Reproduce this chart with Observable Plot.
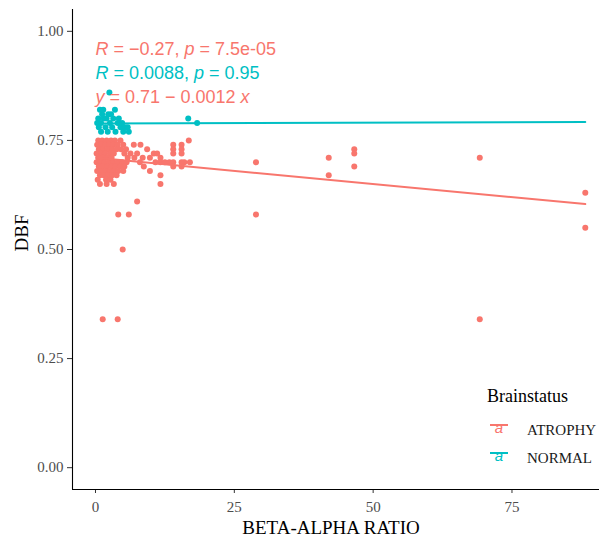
<!DOCTYPE html>
<html><head><meta charset="utf-8">
<script src="https://cdn.jsdelivr.net/npm/d3@7"></script>
<script src="https://cdn.jsdelivr.net/npm/@observablehq/plot@0.6"></script>
<style>html,body{margin:0;padding:0;background:#fff;overflow:hidden;} #chart svg{display:block;}</style>
</head><body><div id="chart"></div>
<script>
// ---- data (BETA-ALPHA RATIO, DBF) ----
const groups = ["ATROPHY", "NORMAL"];
const groupColors = ["#F8766D", "#00BFC4"];

const atrophy = [
  [0.5,0.75],[1.2,0.75],[2.0,0.75],[2.8,0.75],[3.5,0.75],[4.5,0.75],
  [0.3,0.74],[1.0,0.74],[1.8,0.74],[2.5,0.74],[3.2,0.74],[4.0,0.74],[5.0,0.74],[6.9,0.74],[8.1,0.74],
  [0.6,0.73],[1.4,0.73],[2.2,0.73],[3.0,0.73],[3.8,0.73],[4.6,0.73],[5.5,0.73],[9.3,0.73],
  [0.2,0.72],[1.0,0.72],[1.7,0.72],[2.6,0.72],[3.3,0.72],[5.2,0.72],[6.3,0.72],[7.5,0.72],[10.5,0.72],[11.1,0.72],
  [0.5,0.71],[1.3,0.71],[2.0,0.71],[2.9,0.71],[5.8,0.71],[7.0,0.71],[8.5,0.71],[9.8,0.71],[11.7,0.71],
  [0.2,0.70],[0.9,0.70],[1.6,0.70],[2.4,0.70],[3.2,0.70],[4.0,0.70],[4.8,0.70],[5.6,0.70],[8.0,0.70],[10.8,0.70],[11.7,0.70],[12.5,0.70],[13.3,0.70],[16.0,0.70],[17.0,0.70],
  [0.6,0.69],[1.3,0.69],[2.1,0.69],[2.9,0.69],[3.6,0.69],[4.4,0.69],[5.2,0.69],[8.7,0.69],
  [0.3,0.68],[1.0,0.68],[1.8,0.68],[2.6,0.68],[3.3,0.68],[4.1,0.68],[5.0,0.68],[9.8,0.68],
  [0.8,0.67],[1.5,0.67],[2.3,0.67],[3.0,0.67],[3.8,0.67],[11.7,0.67],
  [0.4,0.66],[1.9,0.66],[2.7,0.66],
  [0.8,0.65],[2.0,0.65],[3.3,0.65],[11.7,0.65],
  [14.0,0.74],[14.0,0.73],[14.0,0.72],[14.0,0.70],[14.0,0.69],
  [15.5,0.74],[15.5,0.73],[15.5,0.72],[15.5,0.70],[15.5,0.69],
  [16.8,0.75],
  [7.5,0.61],[4.1,0.58],[6.0,0.58],[4.9,0.50],[1.3,0.34],[4.0,0.34],
  [28.9,0.70],[28.9,0.58],[42.0,0.71],[42.0,0.67],
  [46.6,0.73],[46.6,0.72],[46.6,0.69],
  [69.2,0.71],[69.2,0.34],[88.2,0.63],[88.2,0.55]
];

const normal = [
  [0.3,0.79],[0.5,0.80],[0.6,0.78],[0.8,0.82],[1.0,0.79],[1.0,0.77],[1.2,0.81],[1.4,0.82],
  [1.5,0.80],[1.8,0.78],[2.0,0.80],[2.2,0.77],[2.3,0.81],[2.5,0.86],[2.6,0.79],[2.8,0.81],
  [3.0,0.78],[3.2,0.80],[3.5,0.82],[3.6,0.77],[4.0,0.79],[4.2,0.80],[4.5,0.78],[4.8,0.79],
  [5.0,0.77],[5.3,0.78],[5.8,0.78],[6.0,0.77],[16.7,0.80],[18.3,0.79]
];

// fitted lines (endpoints)
const atrophyFitX = [0.2, 88.2];
const atrophyFitY = [0.710, 0.604];
const normalFitX = [0.2, 88.2];
const normalFitY = [0.789, 0.792];

// annotation labels
const annLabels = ["R = −0.27, p = 7.5e-05", "R = 0.0088, p = 0.95", "y = 0.71 − 0.0012 x"];
const annGroups = ["ATROPHY", "NORMAL", "ATROPHY"];
const annY = [0.959, 0.904, 0.849];

const xTicks = [0, 25, 50, 75];
const yTicks = [0, 0.25, 0.5, 0.75, 1.0];

// ---- build tables ----
const pts = [
  ...atrophy.map(([x, y]) => ({x, y, g: "ATROPHY"})),
  ...normal.map(([x, y]) => ({x, y, g: "NORMAL"}))
];
const fitA = atrophyFitX.map((x, i) => ({x, y: atrophyFitY[i]}));
const fitN = normalFitX.map((x, i) => ({x, y: normalFitY[i]}));
const ann = annLabels.map((label, i) => ({label, g: annGroups[i], y: annY[i], x: 0}));
const colorOf = g => groupColors[groups.indexOf(g)];

const serif = "'Liberation Serif', 'Times New Roman', serif";
const sans = "'Liberation Sans', Arial, sans-serif";

const xDom = [-4.14, 90.76];
const yDom = [-0.05, 1.05];

const chart = Plot.plot({
  width: 599, height: 538,
  marginLeft: 72, marginRight: 0, marginTop: 9, marginBottom: 49,
  x: {domain: xDom},
  y: {domain: yDom},
  style: {fontFamily: serif, fontSize: "15px", background: "#fff", color: "#4d4d4d"},
  marks: [
    Plot.axisX({ticks: xTicks, tickSize: 4, tickPadding: 8, label: null, fill: "#4d4d4d", stroke: "#333", fontSize: 15}),
    Plot.axisY({ticks: yTicks, tickSize: 5, tickPadding: 4, tickFormat: d3.format(".2f"), label: null, fill: "#4d4d4d", stroke: "#333", fontSize: 15}),
    Plot.ruleX([xDom[0]], {stroke: "#000", strokeWidth: 1.1}),
    Plot.ruleY([yDom[0]], {stroke: "#000", strokeWidth: 1.1}),
    Plot.dot(pts.filter(d => d.g === "ATROPHY"), {x: "x", y: "y", r: 3, fill: colorOf("ATROPHY"), stroke: "none"}),
    Plot.dot(pts.filter(d => d.g === "NORMAL"), {x: "x", y: "y", r: 3, fill: colorOf("NORMAL"), stroke: "none"}),
    Plot.line(fitA, {x: "x", y: "y", stroke: colorOf("ATROPHY"), strokeWidth: 2}),
    Plot.line(fitN, {x: "x", y: "y", stroke: colorOf("NORMAL"), strokeWidth: 2}),
    Plot.text(ann.filter(d => d.g === "ATROPHY"), {x: "x", y: "y", text: "label", textAnchor: "start", fill: colorOf("ATROPHY"), fontSize: 18, fontFamily: sans, className: "ann"}),
    Plot.text(ann.filter(d => d.g === "NORMAL"), {x: "x", y: "y", text: "label", textAnchor: "start", fill: colorOf("NORMAL"), fontSize: 18, fontFamily: sans, className: "ann"})
  ]
});
document.getElementById("chart").appendChild(chart);

const svg = d3.select(chart);

// italic math letters in annotations
svg.selectAll("g.ann text").each(function() {
  const t = d3.select(this);
  const s = this.textContent;
  t.text(null);
  s.split(/\b([Rpxy])\b/).forEach((part, i) => {
    if (!part) return;
    const ts = t.append("tspan").text(part);
    if (i % 2 === 1) ts.attr("font-style", "italic");
  });
});

// axis titles
svg.append("text").attr("x", 331).attr("y", 534).attr("text-anchor", "middle")
  .attr("font-family", serif).attr("font-size", 19).attr("fill", "#000").text("BETA-ALPHA RATIO");
svg.append("text").attr("transform", "translate(28,233) rotate(-90)").attr("text-anchor", "middle")
  .attr("font-family", serif).attr("font-size", 19).attr("fill", "#000").text("DBF");

// legend
const lg = svg.append("g").attr("text-anchor", "start");
lg.append("text").attr("x", 487).attr("y", 402).attr("text-anchor", "start").attr("font-family", serif).attr("font-size", 18).attr("fill", "#000").text("Brainstatus");
groups.forEach((g, i) => {
  const cy = 425 + i * 28;
  const c = groupColors[i];
  lg.append("line").attr("x1", 490).attr("x2", 508).attr("y1", cy).attr("y2", cy).attr("stroke", c).attr("stroke-width", 2);
  lg.append("text").attr("x", 499).attr("y", cy + 8).attr("text-anchor", "middle").attr("font-family", sans).attr("font-style", "italic").attr("font-size", 15).attr("fill", c).text("a");
  lg.append("text").attr("x", 527).attr("y", cy + 10).attr("text-anchor", "start").attr("font-family", serif).attr("font-size", 15).attr("fill", "#1a1a1a").text(g);
});
</script></body></html>
